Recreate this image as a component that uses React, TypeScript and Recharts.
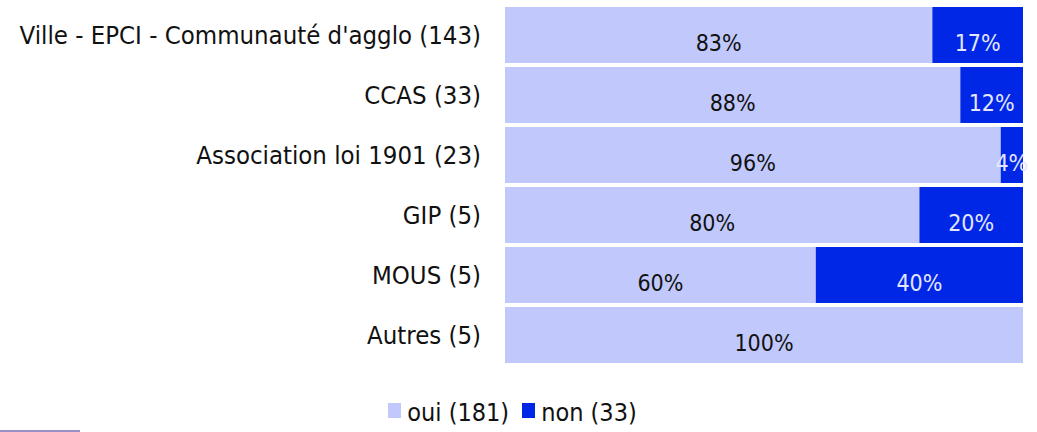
import React from 'react';
import { BarChart, Bar, XAxis, YAxis, Legend, LabelList } from 'recharts';

const categories = [
    "Ville - EPCI - Communauté d'agglo (143)",
    'CCAS (33)',
    'Association loi 1901 (23)',
    'GIP (5)',
    'MOUS (5)',
    'Autres (5)',
];
// bar split
const oui = [82.5, 87.9, 95.7, 80, 60, 100];
const non = [17.5, 12.1, 4.3, 20, 40, 0];
// percentages as printed on the bars
const ouiLabels = ['83%', '88%', '96%', '80%', '60%', '100%'];
const nonLabels = ['17%', '12%', '4%', '20%', '40%', ''];
const seriesNames = ['oui (181)', 'non (33)'];

const LIGHT = '#c1c9fc';
const DARK = '#0026e6';
const colors = [LIGHT, DARK];

const data = categories.map((name, i) => ({
    name,
    oui: oui[i],
    non: non[i],
    ouiLabel: ouiLabels[i],
    nonLabel: nonLabels[i],
}));

const makeLabel = (color: string) => (props: any) => {
    const { x, y, width, height, value } = props;
    if (!value) return null;
    return (
        <text
            x={x + width / 2}
            y={y + height / 2 + 16}
            textAnchor="middle"
            fill={color}
            fontFamily="DejaVu Sans Condensed"
            fontSize={23}
        >
            {value}
        </text>
    );
};

const renderLegend = () => (
    <div style={{ display: 'flex', justifyContent: 'center', paddingRight: 12, fontFamily: 'DejaVu Sans Condensed', fontSize: 25, lineHeight: '26px', color: '#111' }}>
        {seriesNames.map((name, index) => (
            <div key={`item-${index}`} style={{ display: 'flex', alignItems: 'flex-start', marginRight: index < seriesNames.length - 1 ? 13 : 0 }}>
                <span style={{ display: 'inline-block', width: 13, height: 15, marginTop: 3, marginRight: 6, background: colors[index] }} />
                <span>{name}</span>
            </div>
        ))}
    </div>
);

const App = () => {
    return (
        <div style={{ position: 'absolute', left: 0, top: 0, width: 1037, height: 432, background: '#fff' }}>
            <BarChart
                width={1037}
                height={432}
                data={data}
                layout="vertical"
                margin={{ top: 5, right: 14, bottom: 67, left: 0 }}
                barCategoryGap={2}
            >
                <XAxis type="number" domain={[0, 100]} hide />
                <YAxis
                    type="category"
                    dataKey="name"
                    width={505}
                    axisLine={false}
                    tickLine={false}
                    tickSize={0}
                    tickMargin={24}
                    tick={{ fill: '#111', fontFamily: 'DejaVu Sans Condensed', fontSize: 25.5 }}
                />
                <Legend
                    layout="horizontal"
                    verticalAlign="middle"
                    align="center"
                    content={renderLegend}
                    wrapperStyle={{ top: 400, left: 0, width: 1037 }}
                />
                <Bar dataKey="oui" name={seriesNames[0]} stackId="a" fill={LIGHT} isAnimationActive={false}>
                    <LabelList dataKey="ouiLabel" content={makeLabel('#111')} />
                </Bar>
                <Bar dataKey="non" name={seriesNames[1]} stackId="a" fill={DARK} isAnimationActive={false}>
                    <LabelList dataKey="nonLabel" content={makeLabel('#e4e6ff')} />
                </Bar>
            </BarChart>
            <div style={{ position: 'absolute', left: 0, top: 430, width: 80, height: 2, background: '#9a90c8' }} />
        </div>
    );
};

export default App;
